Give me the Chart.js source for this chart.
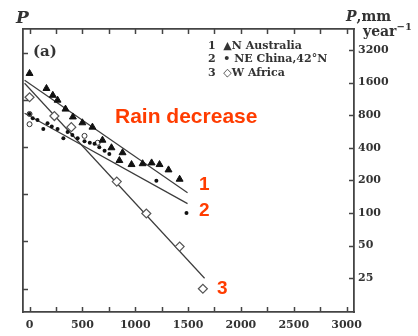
<!DOCTYPE html>
<html>
<head>
<meta charset="utf-8">
<script src="https://cdn.jsdelivr.net/npm/chart.js@4.4.0/dist/chart.umd.min.js"></script>
<style>
  html, body { margin: 0; padding: 0; background: #fff; }
  #wrap { position: relative; width: 418px; height: 336px; }
  .t { position: absolute; white-space: nowrap; font-family: "DejaVu Serif", serif; font-weight: bold; color: #333; line-height: 1; }
  .red { position: absolute; white-space: nowrap; font-family: "Liberation Sans", Arial, sans-serif; font-weight: bold; color: #ff3c00; line-height: 1; }
  .t i { font-style: italic; }
  .t sup { font-size: 10px; vertical-align: 6px; }
</style>
</head>
<body>
<div id="wrap">
  <canvas id="chart" width="418" height="336"></canvas>

  <div class="t" style="left:16px;top:9px;font-size:17px;"><i>P</i></div>
  <div class="t" style="left:346px;top:9px;font-size:14px;"><i>P</i>,mm</div>
  <div class="t" style="left:363px;top:22px;font-size:14px;">year<sup>−1</sup></div>

  <div class="t" style="left:33px;top:44px;font-size:15px;">(a)</div>

  <div class="t" style="left:208px;top:40px;font-size:11px;">1&nbsp;&nbsp;▲N Australia</div>
  <div class="t" style="left:208px;top:53px;font-size:11px;">2&nbsp;&nbsp;•&nbsp;NE China,42°N</div>
  <div class="t" style="left:208px;top:67px;font-size:11px;">3&nbsp;&nbsp;◇W Africa</div>

  <div class="red" style="left:115px;top:105px;font-size:21px;">Rain decrease</div>
  <div class="red" style="left:199px;top:174px;font-size:19px;">1</div>
  <div class="red" style="left:199px;top:200px;font-size:19px;">2</div>
  <div class="red" style="left:217px;top:278px;font-size:19px;">3</div>
</div>

<script>
/* 강수량 P (log) vs 거리 — 세 지역 비교 */

// 축 눈금
const xTicks = [0, 250, 500, 750, 1000, 1250, 1500, 1750, 2000, 2250, 2500, 2750, 3000];
const pTicks = [25, 50, 100, 200, 400, 800, 1600, 3200];
const lnTicks = [3, 4, 5, 6, 7, 8].map(v => Math.exp(v)); // 왼쪽 축: ln P 눈금 (라벨 없음)

// 1: N Australia (▲)
const ausX = [0, 160, 220, 265, 340, 410, 500, 595, 690, 775, 850, 880, 965, 1070, 1155, 1230, 1315, 1420];
const ausP = [1940, 1410, 1220, 1100, 910, 770, 680, 620, 470, 400, 305, 360, 280, 285, 290, 280, 250, 205];

// 2: NE China, 42°N (•)
const chinaX = [0, 30, 75, 130, 170, 210, 265, 320, 360, 405, 455, 520, 570, 615, 660, 710, 755, 1200, 1485];
const chinaP = [820, 750, 720, 595, 675, 630, 595, 490, 560, 525, 490, 460, 445, 435, 405, 375, 350, 198, 100];

// 기타 (○) — 군집 안의 작은 빈 원
const otherX = [0, 0, 520, 645];
const otherP = [820, 660, 515, 445];

// 3: W Africa (◇)
const afrX = [0, 235, 395, 825, 1105, 1420, 1640];
const afrP = [1170, 785, 620, 195, 99, 49, 20];

// 회귀선 양 끝점
const fit1X = [-47, 1495], fit1P = [1680, 154];
const fit2X = [-47, 1495], fit2P = [834, 122];
const fit3X = [-47, 1656], fit3P = [1575, 25];

const X_MIN = -62, X_MAX = 3070;
const P_MIN = 12.2, P_MAX = 4990;
const ink = "#444";

const pts = (xs, ys) => xs.map((x, i) => ({ x, y: ys[i] }));
const fitLine = (xs, ys) => ({
  type: "line", data: pts(xs, ys), borderColor: "#3c3c3c", borderWidth: 1.2,
  pointRadius: 0, fill: false, tension: 0, order: 5,
});

// 안쪽으로 향하는 눈금 (네 변 모두)
const innerTicks = {
  id: "innerTicks",
  afterDraw(chart) {
    const { ctx, chartArea: a } = chart;
    const L = 5;
    ctx.save();
    ctx.strokeStyle = ink;
    ctx.lineWidth = 1.5;
    ctx.beginPath();
    Object.values(chart.scales).forEach(s => {
      s.ticks.forEach(t => {
        const p = Math.round(s.getPixelForValue(t.value)) + 0.5;
        if (s.position === "bottom") { ctx.moveTo(p, a.bottom); ctx.lineTo(p, a.bottom - L); }
        else if (s.position === "top") { ctx.moveTo(p, a.top); ctx.lineTo(p, a.top + L); }
        else if (s.position === "left") { ctx.moveTo(a.left, p); ctx.lineTo(a.left + L, p); }
        else { ctx.moveTo(a.right, p); ctx.lineTo(a.right - L, p); }
      });
    });
    ctx.stroke();
    ctx.restore();
  },
};

const tickFont = { family: "'DejaVu Serif', serif", size: 11, weight: "bold" };
const setTicks = (arr) => (s) => { s.ticks = arr.map(v => ({ value: v })); };

new Chart(document.getElementById("chart"), {
  data: {
    datasets: [
      fitLine(fit1X, fit1P),
      fitLine(fit2X, fit2P),
      fitLine(fit3X, fit3P),
      { type: "scatter", label: "N Australia", data: pts(ausX, ausP), pointStyle: "triangle",
        pointRadius: 4, backgroundColor: "#111", borderColor: "#111", borderWidth: 1, order: 1 },
      { type: "scatter", label: "NE China, 42°N", data: pts(chinaX, chinaP), pointStyle: "circle",
        pointRadius: 2, backgroundColor: "#111", borderColor: "#111", borderWidth: 0, order: 1 },
      { type: "scatter", label: "other", data: pts(otherX, otherP), pointStyle: "circle",
        pointRadius: 2.5, backgroundColor: "#fff", borderColor: "#333", borderWidth: 1, order: 1 },
      { type: "scatter", label: "W Africa", data: pts(afrX, afrP), pointStyle: "rectRot",
        pointRadius: 4.5, backgroundColor: "#fff", borderColor: "#555", borderWidth: 1.2, order: 1 },
    ],
  },
  options: {
    responsive: false, animation: false,
    layout: { padding: 0 },
    plugins: { legend: { display: false }, tooltip: { enabled: false } },
    scales: {
      x: {
        type: "linear", position: "bottom", min: X_MIN, max: X_MAX,
        afterBuildTicks: setTicks(xTicks),
        afterFit: (s) => { s.height = 24; },
        grid: { display: false, drawTicks: false },
        border: { display: true, color: ink, width: 1.8 },
        ticks: { color: "#333", font: tickFont, padding: 7, maxRotation: 0, autoSkip: false,
          callback: (v) => (v % 500 === 0 ? String(v) : "") },
      },
      x2: {
        type: "linear", position: "top", min: X_MIN, max: X_MAX,
        afterBuildTicks: setTicks(xTicks),
        afterFit: (s) => { s.height = 29; },
        grid: { display: false, drawTicks: false },
        border: { display: true, color: ink, width: 1.8 },
        ticks: { display: false },
      },
      y: {
        type: "logarithmic", position: "right", min: P_MIN, max: P_MAX,
        afterBuildTicks: setTicks(pTicks),
        afterFit: (s) => { s.width = 64; },
        grid: { display: false, drawTicks: false },
        border: { display: true, color: ink, width: 1.8 },
        ticks: { color: "#333", font: tickFont, padding: 4, autoSkip: false,
          callback: (v) => String(v) },
      },
      y2: {
        type: "logarithmic", position: "left", min: P_MIN, max: P_MAX,
        afterBuildTicks: setTicks(lnTicks),
        afterFit: (s) => { s.width = 23; },
        grid: { display: false, drawTicks: false },
        border: { display: true, color: ink, width: 1.8 },
        ticks: { display: false },
      },
    },
  },
  plugins: [innerTicks],
});
</script>
</body>
</html>
